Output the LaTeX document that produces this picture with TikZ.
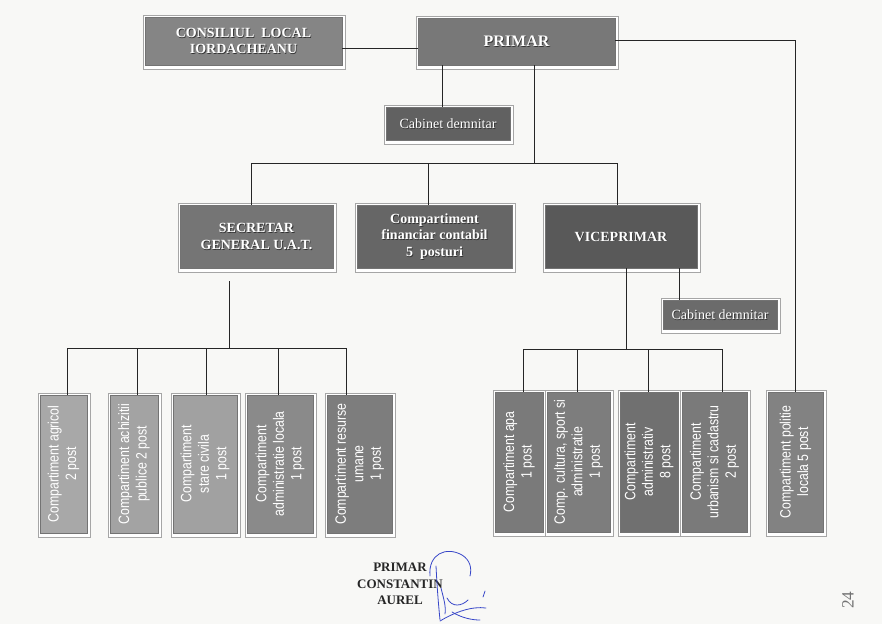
\documentclass[tikz,border=0pt]{standalone}
\usepackage{fontspec}
\setmainfont{Liberation Serif}
\newfontfamily\narrowsans[FakeStretch=0.82]{Liberation Sans}
\usetikzlibrary{fit}
\definecolor{paper}{HTML}{F8F8F6}
\definecolor{inkblue}{RGB}{55,70,200}
\newcommand{\orgrect}[6]{%
  \draw[frame] (#2-2,#3-2) rectangle (#4+3,#5+4);
  \node[orgbox, fill=#6, fit={(#2,#3) (#4,#5)}] (#1) {};}
\newcommand{\boxlabel}[3]{%
  \node[#2, text=black!80, xshift=0.8pt, yshift=-0.8pt] (#1-sh) at (#1.center) {#3};
  \node[#2, text=white] (#1-tx) at (#1.center) {#3};}
\begin{document}
\begin{tikzpicture}[x=1pt,y=-1pt,
  frame/.style={draw=black!35, line width=0.6pt, fill=white},
  orgbox/.style={draw=black!55, line width=0.5pt, inner sep=0pt},
  conn/.style={draw=black!85, line width=0.8pt},
  toptext/.style={font=\fontsize{14}{16.5}\selectfont\bfseries, align=center},
  cabtext/.style={font=\fontsize{14}{16.5}\selectfont, align=center},
  rottext/.style={rotate=90, align=center, text=white, font=\narrowsans\fontsize{15}{17.5}\selectfont},
  signtext/.style={font=\fontsize{13}{16.5}\selectfont\bfseries, align=center, text=black!85},
  sig/.style={draw=inkblue, line width=0.8pt, line cap=round}]
\fill[paper] (0,0) rectangle (882,624);
\useasboundingbox (0,0) rectangle (882,624);

% top level
\orgrect{consiliu}{145}{17}{342}{65}{black!48}
\boxlabel{consiliu}{toptext}{CONSILIUL\ \ LOCAL\\IORDACHEANU}
\orgrect{primar}{418}{18}{615}{65}{black!53}
\boxlabel{primar}{toptext, font=\fontsize{16}{18}\selectfont\bfseries}{PRIMAR}
\orgrect{cabA}{386}{107}{510}{140}{black!62}
\boxlabel{cabA}{cabtext}{Cabinet demnitar}

% second level
\orgrect{secretar}{180}{205}{333}{268}{black!54}
\boxlabel{secretar}{toptext}{SECRETAR\\GENERAL U.A.T.}
\orgrect{financiar}{357}{205}{512}{268}{black!60}
\boxlabel{financiar}{toptext}{Compartiment\\financiar contabil\\5\ \ posturi}
\orgrect{vice}{545}{205}{697}{268}{black!65}
\boxlabel{vice}{toptext}{VICEPRIMAR}
\orgrect{cabB}{663}{300}{777}{329}{black!58}
\boxlabel{cabB}{cabtext}{Cabinet demnitar}

% bottom left
\orgrect{b1}{40}{395}{87}{533}{black!34}
\orgrect{b2}{110}{395}{158}{533}{black!36}
\orgrect{b3}{173}{395}{237}{533}{black!37}
\orgrect{b4}{247}{395}{313}{533}{black!46}
\orgrect{b5}{327}{395}{392}{533}{black!51}
\node[rottext] (b1-tx) at (b1.center) {Compartiment agricol\\2 post};
\node[rottext] (b2-tx) at (b2.center) {Compartiment achizitii\\publice 2 post};
\node[rottext] (b3-tx) at (b3.center) {Compartiment\\stare civila\\1 post};
\node[rottext] (b4-tx) at (b4.center) {Compartiment\\administratie locala\\1 post};
\node[rottext] (b5-tx) at (b5.center) {Compartiment resurse\\umane\\1 post};

% bottom right
\orgrect{r1}{495}{392}{543}{532}{black!52}
\orgrect{r2}{547}{392}{610}{532}{black!51}
\orgrect{r3}{620}{392}{678}{532}{black!56}
\orgrect{r4}{682}{392}{747}{532}{black!52}
\orgrect{pol}{768}{392}{823}{532}{black!49}
\node[rottext] (r1-tx) at (r1.center) {Compartiment apa\\1 post};
\node[rottext] (r2-tx) at (r2.center) {Comp. cultura, sport si\\administratie\\1 post};
\node[rottext] (r3-tx) at (r3.center) {Compartiment\\administrativ\\8 post};
\node[rottext] (r4-tx) at (r4.center) {Compartiment\\urbanism si cadastru\\2 post};
\node[rottext] (pol-tx) at (pol.center) {Compartiment politie\\locala 5 post};

% connectors
\draw[conn] (consiliu.east |- 0,48) -- (primar.west |- 0,48);
\draw[conn] (primar.south -| 442,0) -- (cabA.north -| 442,0);
\draw[conn] (primar.south -| 534,0) -- (534,163);
\draw[conn] (secretar.north -| 251,0) -- (251,163) -- (617,163) -- (vice.north -| 617,0);
\draw[conn] (financiar.north -| 428,0) -- (428,163);
\draw[conn] (primar.east |- 0,40) -- (795,40) -- (pol.north -| 795,0);
\draw[conn] (vice.south -| 679,0) -- (cabB.north -| 679,0);

\coordinate (secdrop) at (229,281);
\draw[conn] (secdrop) -- (229,348);
\draw[conn] (b1.north -| 67,0) -- (67,348) -- (346,348) -- (b5.north -| 346,0);
\draw[conn] (b2.north -| 137,0) -- (137,348);
\draw[conn] (b3.north -| 206,0) -- (206,348);
\draw[conn] (b4.north -| 278,0) -- (278,348);

\draw[conn] (vice.south -| 626,0) -- (626,349);
\draw[conn] (r1.north -| 523,0) -- (523,349) -- (722,349) -- (r4.north -| 722,0);
\draw[conn] (r2.north -| 577,0) -- (577,349);
\draw[conn] (r3.north -| 648,0) -- (648,349);

% signature block
\node[signtext] (sign) at (400,584) {PRIMAR\\CONSTANTIN\\AUREL};
\draw[sig] (430,576) .. controls (428,554) and (446,546) .. (462,555) .. controls (470,560) and (472,568) .. (470,576);
\draw[sig] (436,566) .. controls (437,585) and (438,600) .. (440,620);
\draw[sig] (441,588) .. controls (444,600) and (446,606) .. (445,614);
\draw[sig] (447,598) .. controls (452,608) and (462,606) .. (468,600);
\draw[sig] (440,621) .. controls (455,612) and (472,606) .. (486,608);
\draw[sig] (452,612) .. controls (462,618) and (472,620) .. (480,620);
\draw[sig] (485,591) -- (483,597);
\node[rotate=90, text=black!55, font=\LARGE] (pagenum) at (848,600) {24};
\end{tikzpicture}
\end{document}
